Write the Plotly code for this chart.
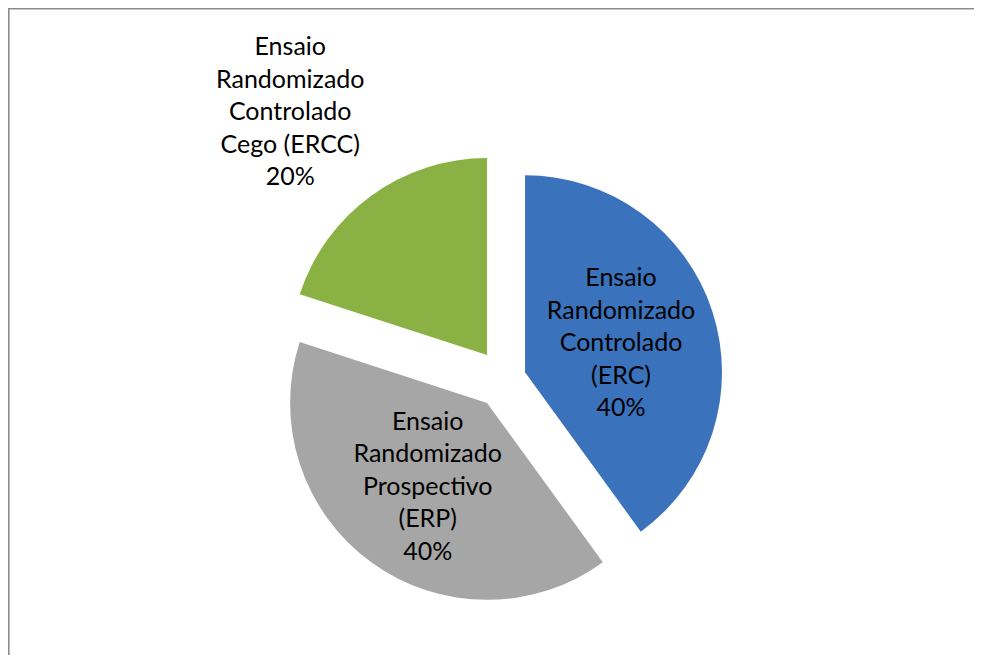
import plotly.graph_objects as go

# dados do gráfico de pizza
categorias = ["Ensaio<br>Randomizado<br>Controlado<br>(ERC)",
              "Ensaio<br>Randomizado<br>Prospectivo<br>(ERP)",
              "Ensaio<br>Randomizado<br>Controlado<br>Cego (ERCC)"]
valores = [40, 40, 20]
cores = ["#3A72BC", "#A6A6A6", "#8AB143"]
destaque = [0.11, 0.15, 0.15]

# a página tem margem de 8 px no corpo; figura menor para não gerar barra de rolagem
W, H = 966, 647

# rótulos: os dois primeiros dentro da fatia, o terceiro como anotação acima
total = sum(valores)
textos = [f"{c}<br>{v / total:.0%}" for c, v in zip(categorias, valores)]
textos_fatia = textos[:2] + [""]

fig = go.Figure(go.Pie(
    labels=categorias, values=valores, sort=False, direction="clockwise",
    rotation=0, pull=destaque,
    marker=dict(colors=cores, line=dict(width=0)),
    text=textos_fatia, textinfo="text", textposition="inside",
    insidetextorientation="horizontal",
    textfont=dict(family="Lato", size=25, color="black"),
    domain=dict(x=[0.2794, 0.7484], y=[0.0765, 0.7767]),
    showlegend=False, hoverinfo="label+percent",
))

fig.add_annotation(text=textos[2], xref="paper", yref="paper",
                   x=282 / W, y=1 - 102 / H, xanchor="center", yanchor="middle",
                   showarrow=False, font=dict(family="Lato", size=25, color="black"))

# moldura do gráfico: só as bordas superior e esquerda aparecem no original
borda = dict(color="#8C8C8C", width=2)
fig.add_shape(type="line", xref="paper", yref="paper",
              x0=0, x1=1, y0=1 - 0.6 / H, y1=1 - 0.6 / H, line=borda)
fig.add_shape(type="line", xref="paper", yref="paper",
              x0=0.6 / W, x1=0.6 / W, y0=0, y1=1, line=borda)

fig.update_layout(
    width=W, height=H,
    paper_bgcolor="white", plot_bgcolor="white",
    font=dict(family="Lato", color="black"),
    uniformtext=dict(minsize=25, mode="show"),
    margin=dict(l=0, r=0, t=0, b=0),
)
fig.write_html("out.html")
